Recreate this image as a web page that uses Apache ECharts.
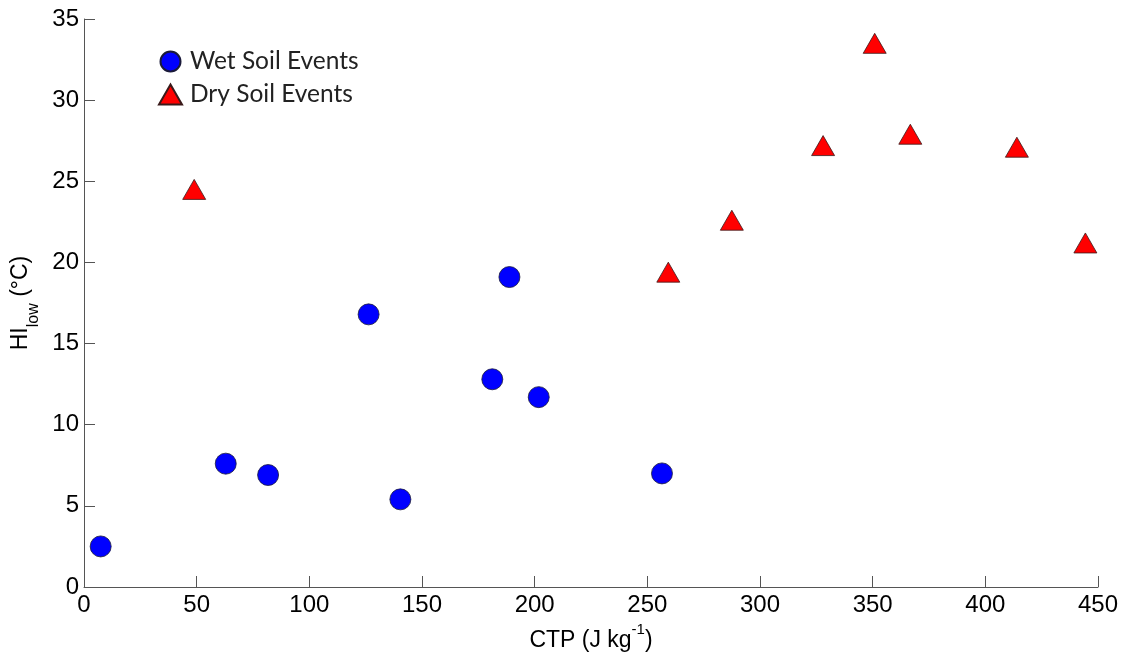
<!DOCTYPE html>
<html>
<head>
<meta charset="utf-8">
<script src="https://cdn.jsdelivr.net/npm/echarts@6/dist/echarts.min.js"></script>
<style>html,body{margin:0;padding:0;background:#fff}#c{width:1128px;height:655px}</style>
</head>
<body>
<div id="c"></div>
<script>
const wetCTP = [7.4, 62.9, 81.7, 140.4, 126.3, 188.8, 181.2, 201.8, 256.5];
const wetHI  = [2.5, 7.6, 6.9, 5.4, 16.8, 19.1, 12.8, 11.7, 7.0];
const dryCTP = [48.9, 259.3, 287.5, 328.0, 350.9, 366.7, 414.0, 444.4];
const dryHI  = [24.5, 19.4, 22.6, 27.2, 33.5, 27.9, 27.1, 21.2];
const seriesNames = ['Wet Soil Events', 'Dry Soil Events'];
const xTicks = [0, 450, 50];
const yTicks = [0, 35, 5];

const chart = echarts.init(document.getElementById('c'));
const axisCol = '#555555';
const tickFont = {fontFamily: 'Liberation Sans, Arial, sans-serif', fontSize: 24, color: '#000'};
chart.setOption({
  animation: false,
  backgroundColor: '#fff',
  grid: {left: 84, right: 30, top: 19, bottom: 68, containLabel: false, outerBoundsMode: 'none'},
  legend: {
    orient: 'vertical', left: 158, top: 49, padding: 0,
    itemWidth: 23, itemHeight: 20, itemGap: 8,
    textStyle: {fontFamily: 'Lato, Open Sans, sans-serif', fontSize: 24.5, color: '#222', padding: [0, 0, 0, 3]},
    data: seriesNames
  },
  xAxis: {
    type: 'value', min: xTicks[0], max: xTicks[1], interval: xTicks[2],
    name: '{n|CTP (J kg}{s|-1}{n|)}', nameLocation: 'middle', nameGap: 35,
    nameTextStyle: {rich: {
      n: {fontFamily: 'Liberation Sans, Arial, sans-serif', fontSize: 23, color: '#000', lineHeight: 30, verticalAlign: 'bottom'},
      s: {fontFamily: 'Liberation Sans, Arial, sans-serif', fontSize: 15, color: '#000', lineHeight: 30, verticalAlign: 'top'}
    }},
    axisLine: {show: true, onZero: false, lineStyle: {color: axisCol, width: 1}},
    axisTick: {show: true, inside: true, length: 11, lineStyle: {color: axisCol}},
    axisLabel: Object.assign({margin: 6}, tickFont),
    splitLine: {show: false}
  },
  yAxis: {
    type: 'value', min: yTicks[0], max: yTicks[1], interval: yTicks[2],
    name: '{n|HI}{s|low}{n| (°C)}', nameLocation: 'middle', nameGap: 40, nameRotate: 90,
    nameTextStyle: {rich: {
      n: {fontFamily: 'Liberation Sans, Arial, sans-serif', fontSize: 23, color: '#000', lineHeight: 32, verticalAlign: 'top'},
      s: {fontFamily: 'Liberation Sans, Arial, sans-serif', fontSize: 16, color: '#000', lineHeight: 32, verticalAlign: 'bottom'}
    }},
    axisLine: {show: true, onZero: false, lineStyle: {color: axisCol, width: 1}},
    axisTick: {show: true, inside: true, length: 11, lineStyle: {color: axisCol}},
    axisLabel: Object.assign({margin: 5}, tickFont),
    splitLine: {show: false}
  },
  series: [
    {
      name: seriesNames[0], type: 'scatter', symbol: 'circle', symbolSize: 21,
      itemStyle: {color: '#0000ff', borderColor: '#1a1a3a', borderWidth: 0.8, opacity: 1},
      data: wetCTP.map((x, i) => [x, wetHI[i]])
    },
    {
      name: seriesNames[1], type: 'scatter', symbol: 'triangle', symbolSize: [23, 20],
      itemStyle: {color: '#ff0000', borderColor: '#3a1a1a', borderWidth: 0.8, opacity: 1},
      data: dryCTP.map((x, i) => [x, dryHI[i]])
    }
  ]
});
</script>
</body>
</html>
